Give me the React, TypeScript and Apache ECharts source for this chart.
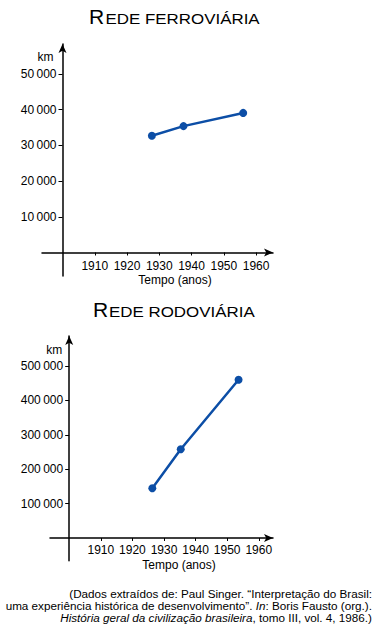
import React, { useEffect, useRef } from 'react';
import * as echarts from 'echarts';

const yearTicks = [1910, 1920, 1930, 1940, 1950, 1960];

const ferroYears = [1927.7, 1937.5, 1956];
const ferroKm = [32700, 35400, 39100];
const ferroTicks = [10000, 20000, 30000, 40000, 50000];

const rodoYears = [1926.3, 1935.3, 1953.6];
const rodoKm = [144500, 257800, 460200];
const rodoTicks = [100000, 200000, 300000, 400000, 500000];

const FONT = "'Liberation Sans', Arial, Helvetica, sans-serif";
const BLUE = '#0c4ea6';
const INK = '#000000';

function fmtKm(v: number): string {
  const s = String(Math.round(v));
  return s.slice(0, -3) + '\u2009' + s.slice(-3);
}

function xAxisFor(gridIndex: number, min: number, max: number, labelMargin: number, nameGap: number) {
  return {
    type: 'value',
    gridIndex,
    min,
    max,
    position: 'bottom',
    axisLine: {
      show: true,
      onZero: true,
      lineStyle: { color: INK, width: 1.5 },
      symbol: ['none', 'arrow'],
      symbolSize: [6, 9],
    },
    axisTick: { show: true, customValues: yearTicks, length: 3, lineStyle: { color: INK, width: 1 } },
    axisLabel: {
      customValues: yearTicks,
      margin: labelMargin,
      color: INK,
      fontSize: 12,
      fontFamily: FONT,
      verticalAlign: 'middle',
      formatter: (v: number) => String(v),
    },
    splitLine: { show: false },
    name: 'Tempo (anos)',
    nameLocation: 'middle',
    nameGap,
    nameTextStyle: {
      color: INK,
      fontSize: 12,
      fontFamily: FONT,
      verticalAlign: 'middle',
      padding: [0, 0, 0, 35],
    },
  };
}

function yAxisFor(gridIndex: number, min: number, max: number, offset: number, ticks: number[], nameGap: number, namePad: number) {
  return {
    type: 'value',
    gridIndex,
    min,
    max,
    position: 'left',
    offset,
    axisLine: {
      show: true,
      onZero: false,
      lineStyle: { color: INK, width: 1.5 },
      symbol: ['none', 'arrow'],
      symbolSize: [6, 9],
    },
    axisTick: { show: true, customValues: ticks, length: 4, lineStyle: { color: INK, width: 1 } },
    axisLabel: {
      customValues: ticks,
      margin: 6,
      color: INK,
      fontSize: 12,
      fontFamily: FONT,
      formatter: (v: number) => fmtKm(v),
    },
    splitLine: { show: false },
    name: 'km',
    nameLocation: 'end',
    nameGap,
    nameTextStyle: {
      color: INK,
      fontSize: 12,
      fontFamily: FONT,
      align: 'right',
      verticalAlign: 'middle',
      padding: [0, namePad, 0, 0],
    },
  };
}

function titleParts(xR: number, yR: number, xS: number, yS: number, rest: string) {
  return [
    {
      type: 'text',
      x: xR,
      y: yR,
      style: { text: 'R', fontSize: 21, fontFamily: FONT, fill: INK, align: 'left', verticalAlign: 'middle' },
    },
    {
      type: 'text',
      x: xS,
      y: yS,
      scaleX: 1.21,
      style: { text: rest, fontSize: 14, fontFamily: FONT, fill: INK, align: 'left', verticalAlign: 'middle' },
    },
  ];
}

export default function App() {
  const ref = useRef<HTMLDivElement>(null);

  useEffect(() => {
    if (!ref.current) return;
    const chart = echarts.init(ref.current, undefined, { renderer: 'svg' });

    const noteStyle = { fontSize: 11.7, fontFamily: FONT, fill: INK, color: INK, lineHeight: 12.35 };

    chart.setOption({
      animation: false,
      backgroundColor: '#ffffff',
      grid: [
        { left: 42, top: 44, width: 231, height: 232, containLabel: false },
        { left: 50, top: 336, width: 223, height: 224.7, containLabel: false },
      ],
      xAxis: [
        xAxisFor(0, 1893.645, 1965.25, -10.3, 4),
        xAxisFor(1, 1893.924, 1964.5, -10.7, 4.3),
      ],
      yAxis: [
        yAxisFor(0, -6583, 58403, -20.5, ferroTicks, -13, 9),
        yAxisFor(1, -65988, 587209, -19.2, rodoTicks, -14, 7),
      ],
      series: [
        {
          type: 'line',
          xAxisIndex: 0,
          yAxisIndex: 0,
          data: ferroYears.map((y, i) => [y, ferroKm[i]]),
          symbol: 'circle',
          symbolSize: 8,
          itemStyle: { color: BLUE },
          lineStyle: { color: BLUE, width: 2.5 },
        },
        {
          type: 'line',
          xAxisIndex: 1,
          yAxisIndex: 1,
          data: rodoYears.map((y, i) => [y, rodoKm[i]]),
          symbol: 'circle',
          symbolSize: 8,
          itemStyle: { color: BLUE },
          lineStyle: { color: BLUE, width: 2.5 },
        },
      ],
      graphic: [
        ...titleParts(89, 16.5, 105.5, 19, 'EDE FERROVIÁRIA'),
        ...titleParts(93, 309.5, 109, 312, 'EDE RODOVIÁRIA'),
        {
          type: 'text',
          x: 372,
          y: 587,
          style: {
            text:
              '{n|(Dados extraídos de: Paul Singer. “Interpretação do Brasil:}\n' +
              '{n|uma experiência histórica de desenvolvimento”. }{i|In}{n|: Boris Fausto (org.).}\n' +
              '{i|História geral da civilização brasileira}{n|, tomo III, vol. 4, 1986.)}',
            align: 'right',
            verticalAlign: 'top',
            fontSize: 11.7,
            fontFamily: FONT,
            fill: INK,
            lineHeight: 12.35,
            rich: {
              n: { ...noteStyle },
              i: { ...noteStyle, fontStyle: 'italic' },
            },
          },
        },
      ],
    });

    return () => {
      chart.dispose();
    };
  }, []);

  return (
    <div
      ref={ref}
      style={{ position: 'fixed', left: 0, top: 0, width: 379, height: 632, background: '#fff' }}
    />
  );
}
